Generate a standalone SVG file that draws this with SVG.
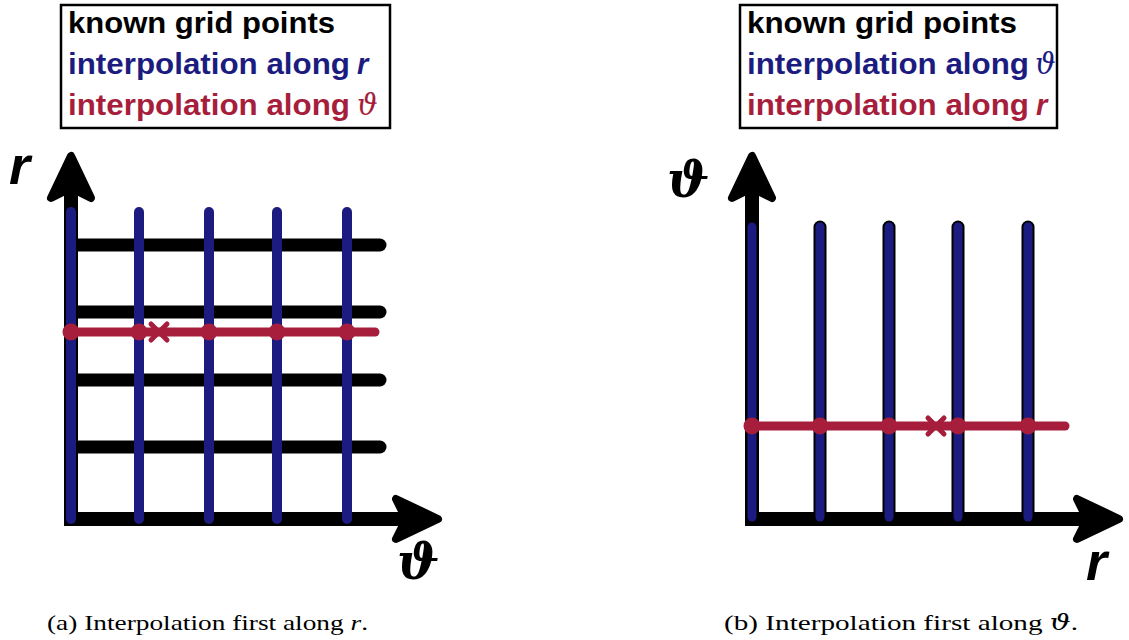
<svg xmlns="http://www.w3.org/2000/svg" xmlns:xlink="http://www.w3.org/1999/xlink" width="1129" height="640" viewBox="0 0 1129 640">
<style>
.box{fill:#fff;stroke:#000;stroke-width:2.5}
.leg{font-family:"Liberation Sans","DejaVu Sans",sans-serif;font-weight:bold;font-size:29px}
.k{fill:#000}.b{fill:#1c1c80}.rd{fill:#a61e3c}
.sym{font-family:"DejaVu Serif",serif;font-style:italic;font-size:29px;font-weight:normal}
.ri{font-style:italic}
.axis{fill:none;stroke:#000;stroke-width:14;stroke-linecap:square;stroke-linejoin:miter}
.grid{stroke:#000;stroke-width:13;stroke-linecap:round}
.bl{stroke:#1c1c80;stroke-width:10;stroke-linecap:round}
.blo{stroke:#000;stroke-width:13;stroke-linecap:round}
.bli{stroke:#1c1c80;stroke-width:9;stroke-linecap:round}
.red{stroke:#a61e3c;stroke-width:9;stroke-linecap:round}
.dot{fill:#a61e3c}
.cross{stroke:#a61e3c;stroke-width:5;stroke-linecap:round}
.lbl{font-family:"Liberation Sans","DejaVu Sans",sans-serif;font-weight:bold;font-style:italic;font-size:54px}
.lblt{font-family:"DejaVu Serif",serif;font-weight:bold;font-style:italic;font-size:50px}
.cap{font-family:"Liberation Serif","DejaVu Serif",serif;font-size:22px;fill:#000}
</style>
<defs>
<path id="ah" d="M0,0 L-20,42 L0,32 L20,42 Z" fill="#000" stroke="#000" stroke-width="8" stroke-linejoin="round"/>
</defs>

<g id="legend-a">
<rect class="box" x="61" y="5" width="329" height="123"/>
<text class="leg k" x="68" y="33" textLength="267" lengthAdjust="spacingAndGlyphs">known grid points</text>
<text class="leg b" x="68" y="74" textLength="282" lengthAdjust="spacingAndGlyphs">interpolation along</text>
<text class="leg b ri" x="357" y="74">r</text>
<text class="leg rd" x="68" y="115" textLength="282" lengthAdjust="spacingAndGlyphs">interpolation along</text>
<text class="sym rd" x="357" y="115">ϑ</text>
</g>

<g id="legend-b">
<rect class="box" x="740" y="5" width="317" height="123"/>
<text class="leg k" x="747" y="33" textLength="270" lengthAdjust="spacingAndGlyphs">known grid points</text>
<text class="leg b" x="747" y="74" textLength="282" lengthAdjust="spacingAndGlyphs">interpolation along</text>
<text class="sym b" x="1035" y="74">ϑ</text>
<text class="leg rd" x="747" y="115" textLength="282" lengthAdjust="spacingAndGlyphs">interpolation along</text>
<text class="leg rd ri" x="1036" y="115">r</text>
</g>

<g id="connectors">
<g id="panel-a">
<path class="axis" d="M71,185 L71,519 L415,519"/>
<use xlink:href="#ah" transform="translate(71,156)"/>
<use xlink:href="#ah" transform="translate(438,519) rotate(90)"/>
<line class="grid" x1="71" y1="245" x2="380" y2="245"/>
<line class="grid" x1="71" y1="312" x2="380" y2="312"/>
<line class="grid" x1="71" y1="380" x2="380" y2="380"/>
<line class="grid" x1="71" y1="447" x2="380" y2="447"/>
<line class="bl" x1="71" y1="212" x2="71" y2="519"/>
<line class="bl" x1="139" y1="212" x2="139" y2="519"/>
<line class="bl" x1="209" y1="212" x2="209" y2="519"/>
<line class="bl" x1="277" y1="212" x2="277" y2="519"/>
<line class="bl" x1="347" y1="212" x2="347" y2="519"/>
<line class="red" x1="71" y1="332" x2="375" y2="332"/>
<circle class="dot" cx="71" cy="332" r="8.5"/>
<circle class="dot" cx="139" cy="332" r="8.5"/>
<circle class="dot" cx="209" cy="332" r="8.5"/>
<circle class="dot" cx="277" cy="332" r="8.5"/>
<circle class="dot" cx="347" cy="332" r="8.5"/>
<path class="cross" d="M151,324 L167,340 M151,340 L167,324"/>
</g>
<g id="panel-b">
<path class="axis" d="M752,185 L752,519 L1095,519"/>
<use xlink:href="#ah" transform="translate(752,156)"/>
<use xlink:href="#ah" transform="translate(1119,519) rotate(90)"/>
<line class="blo" x1="820" y1="227" x2="820" y2="517"/>
<line class="blo" x1="889" y1="227" x2="889" y2="517"/>
<line class="blo" x1="958" y1="227" x2="958" y2="517"/>
<line class="blo" x1="1028" y1="227" x2="1028" y2="517"/>
<line class="bli" x1="752" y1="227" x2="752" y2="517"/>
<line class="bli" x1="820" y1="227" x2="820" y2="517"/>
<line class="bli" x1="889" y1="227" x2="889" y2="517"/>
<line class="bli" x1="958" y1="227" x2="958" y2="517"/>
<line class="bli" x1="1028" y1="227" x2="1028" y2="517"/>
<line class="red" x1="752" y1="426" x2="1065" y2="426"/>
<circle class="dot" cx="752" cy="426" r="8.5"/>
<circle class="dot" cx="820" cy="426" r="8.5"/>
<circle class="dot" cx="889" cy="426" r="8.5"/>
<circle class="dot" cx="958" cy="426" r="8.5"/>
<circle class="dot" cx="1028" cy="426" r="8.5"/>
<path class="cross" d="M928,418 L944,434 M928,434 L944,418"/>
</g>
</g>

<g id="labels">
<text class="lbl" x="9" y="184">r</text>
<text class="lblt" x="397" y="579">ϑ</text>
<text class="lblt" x="667" y="197">ϑ</text>
<text class="lbl" x="1086" y="580">r</text>
</g>

<g id="captions">
<text class="cap" x="47" y="630" textLength="321" lengthAdjust="spacingAndGlyphs">(a) Interpolation first along <tspan font-style="italic">r</tspan>.</text>
<text class="cap" x="724" y="630" textLength="354" lengthAdjust="spacingAndGlyphs">(b) Interpolation first along <tspan font-style="italic" font-family="DejaVu Serif">ϑ</tspan>.</text>
</g>
</svg>
